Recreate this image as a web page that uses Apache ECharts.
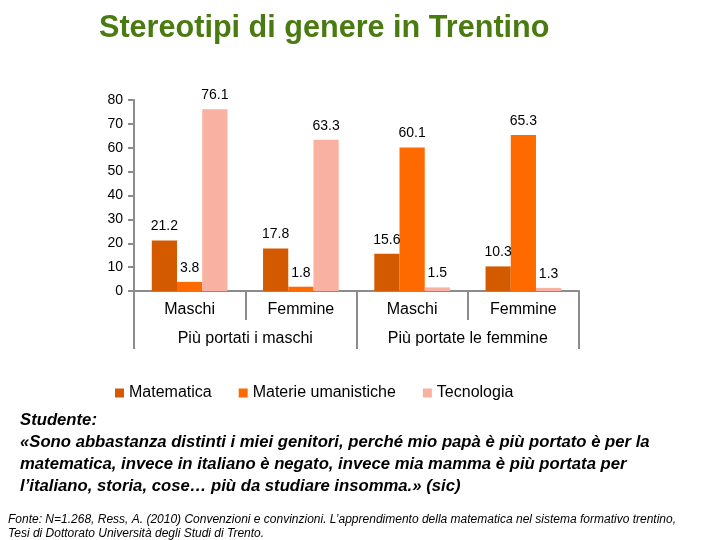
<!DOCTYPE html>
<html>
<head>
<meta charset="utf-8">
<script src="https://cdn.jsdelivr.net/npm/echarts@6/dist/echarts.min.js"></script>
<style>html,body{margin:0;padding:0;background:#fff;}#c{width:720px;height:540px;}</style>
</head>
<body>
<div id="c"></div>
<script>
const groups = ['Più portati i maschi', 'Più portate le femmine'];
const categories = ['Maschi', 'Femmine', 'Maschi', 'Femmine'];
const seriesNames = ['Matematica', 'Materie umanistiche', 'Tecnologia'];
const matematica = [21.2, 17.8, 15.6, 10.3];
const materie = [3.8, 1.8, 60.1, 65.3];
const tecnologia = [76.1, 63.3, 1.5, 1.3];
const colors = ['#D45A00', '#FF6A00', '#F9B1A1'];
const quoteLines = [
  'Studente:',
  '«Sono abbastanza distinti i miei genitori, perché mio papà è più portato è per la',
  'matematica, invece in italiano è negato, invece mia mamma è più portata per',
  'l’italiano, storia, cose… più da studiare insomma.» (sic)'
];
const sourceLines = [
  'Fonte: N=1.268, Ress, A. (2010) Convenzioni e convinzioni. L’apprendimento della matematica nel sistema formativo trentino,',
  'Tesi di Dottorato Università degli Studi di Trento.'
];

const font = 'Arial, "Liberation Sans", sans-serif';
const chart = echarts.init(document.getElementById('c'));
const seriesData = [matematica, materie, tecnologia];

const graphics = [];
quoteLines.forEach((t, i) => {
  graphics.push({
    type: 'text', left: 20, top: 412 + i * 22,
    style: { text: t, font: 'italic bold 16.7px ' + font, fill: '#000' }
  });
});
sourceLines.forEach((t, i) => {
  graphics.push({
    type: 'text', left: 8, top: 514 + i * 14,
    style: { text: t, font: 'italic 12px ' + font, fill: '#000' }
  });
});

chart.setOption({
  animation: false,
  color: colors,
  title: {
    text: 'Stereotipi di genere in Trentino',
    left: 94, top: 8,
    textStyle: { fontFamily: font, fontSize: 30.6, fontWeight: 'bold', color: '#4A7B10' }
  },
  legend: {
    data: seriesNames,
    left: 110, top: 380,
    icon: 'rect', itemWidth: 9, itemHeight: 9, itemGap: 27,
    textStyle: { fontFamily: font, fontSize: 16, color: '#000' }
  },
  grid: { left: 134, right: 141, top: 100, bottom: 249 },
  xAxis: [
    {
      type: 'category', data: categories,
      axisLine: { show: true, lineStyle: { color: '#8C8C8C', width: 2 } },
      axisTick: { show: true, interval: 0, length: 29, lineStyle: { color: '#8C8C8C', width: 2 } },
      axisLabel: { interval: 0, margin: 11, fontFamily: font, fontSize: 16, color: '#000' }
    },
    {
      type: 'category', data: groups, position: 'bottom', offset: 0,
      axisLine: { show: false },
      axisTick: { show: true, interval: 0, length: 58, lineStyle: { color: '#8C8C8C', width: 2 } },
      axisLabel: { interval: 0, margin: 40, fontFamily: font, fontSize: 16, color: '#000' }
    }
  ],
  yAxis: {
    type: 'value', min: 0, max: 80, interval: 10,
    axisLine: { show: true, lineStyle: { color: '#8C8C8C', width: 2 } },
    axisTick: { show: true, length: 6, lineStyle: { color: '#8C8C8C', width: 2 } },
    splitLine: { show: false },
    axisLabel: { margin: 11, fontFamily: font, fontSize: 14, color: '#000' }
  },
  series: seriesNames.map((n, i) => ({
    name: n, type: 'bar', xAxisIndex: 0,
    data: seriesData[i],
    barGap: '0%', barCategoryGap: '32%',
    label: { show: true, position: 'top', distance: 7, fontFamily: font, fontSize: 14, color: '#000' }
  })),
  graphic: graphics
});
</script>
</body>
</html>
